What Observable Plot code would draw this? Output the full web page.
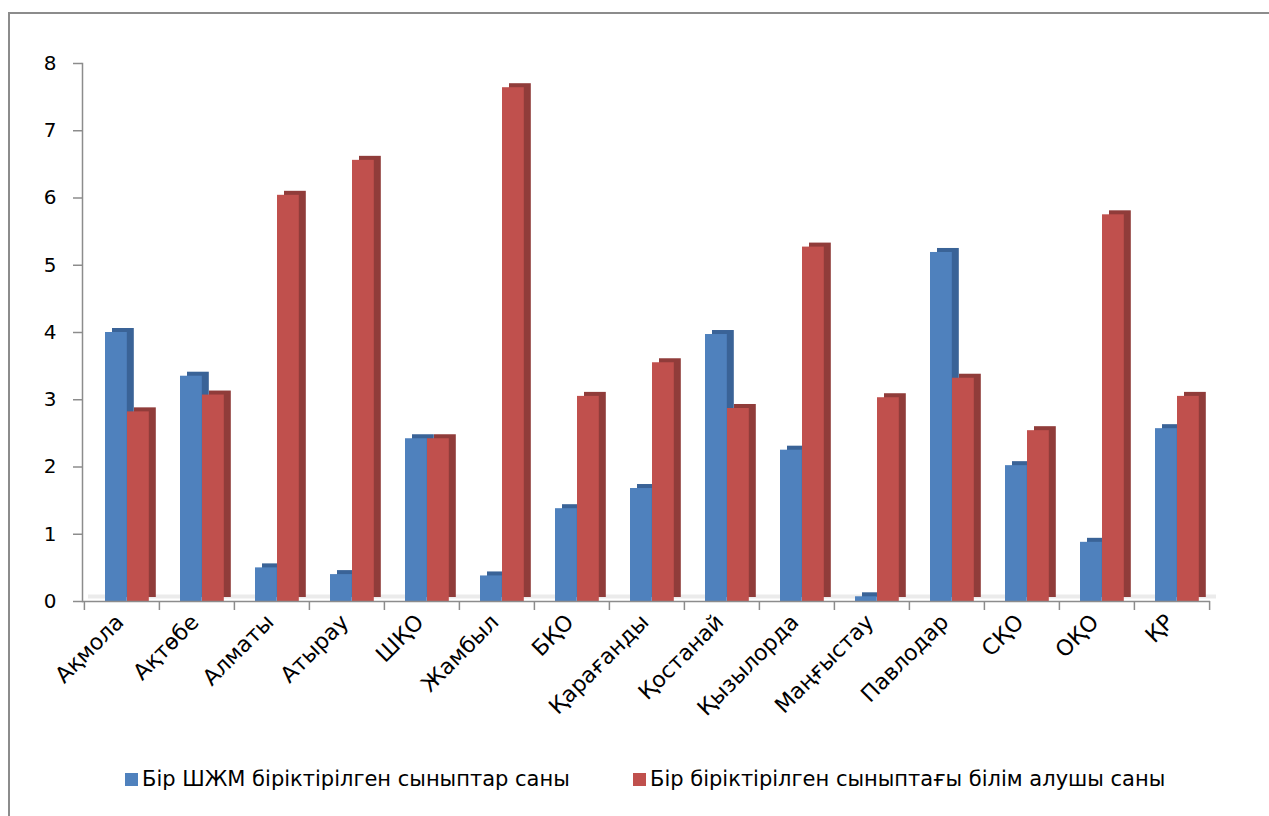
<!DOCTYPE html>
<html>
<head>
<meta charset="utf-8">
<script src="https://cdn.jsdelivr.net/npm/d3@7"></script>
<script src="https://cdn.jsdelivr.net/npm/@observablehq/plot@0.6"></script>
<style>
  html, body { margin: 0; padding: 0; background: #fff; }
  body { width: 1269px; height: 816px; position: relative; overflow: hidden; font-family: "DejaVu Sans", sans-serif; }
  #frame { position: absolute; left: 8px; top: 12px; width: 1400px; height: 900px; border: 2px solid #8c8c8c; box-sizing: border-box; }
  #chart { position: absolute; left: 0; top: 0; }
  #legend { position: absolute; top: 767px; left: 0; width: 1269px; font-size: 21px; color: #000; }
  .item { position: absolute; display: flex; align-items: center; white-space: nowrap; }
  .sw { width: 13px; height: 13px; margin-right: 4px; }
</style>
</head>
<body>
<div id="frame"></div>
<div id="chart"></div>
<div id="legend">
  <div class="item" style="left:125px"><span class="sw" style="background:#4F81BD"></span><span id="l1"></span></div>
  <div class="item" style="left:633px"><span class="sw" style="background:#C0504D"></span><span id="l2"></span></div>
</div>
<script>
const categories = ["Ақмола","Ақтөбе","Алматы","Атырау","ШҚО","Жамбыл","БҚО","Қарағанды","Қостанай","Қызылорда","Маңғыстау","Павлодар","СҚО","ОҚО","ҚР"];
const seriesNames = ["Бір ШЖМ біріктірілген сыныптар саны", "Бір біріктірілген сыныптағы білім алушы саны"];
const classesPerSchool = [4.0, 3.35, 0.5, 0.4, 2.42, 0.38, 1.38, 1.68, 3.97, 2.25, 0.07, 5.19, 2.02, 0.88, 2.57];
const studentsPerClass = [2.82, 3.07, 6.04, 6.56, 2.42, 7.64, 3.05, 3.55, 2.87, 5.27, 3.03, 3.32, 2.54, 5.75, 3.05];
const yTicks = [0,1,2,3,4,5,6,7,8];

document.getElementById("l1").textContent = seriesNames[0];
document.getElementById("l2").textContent = seriesNames[1];

const W = 1269, H = 700;
const mLeft = 82, mRight = 59, mTop = 63, mBottom = 99;
const bw = (W - mLeft - mRight) / categories.length;
const barW = 22, gapL = 21;
const depthX = 7, depthY = -4;

const blue = categories.map((c, i) => ({cat: c, value: classesPerSchool[i]}));
const red = categories.map((c, i) => ({cat: c, value: studentsPerClass[i]}));

const insB = {insetLeft: gapL, insetRight: bw - gapL - barW};
const insR = {insetLeft: gapL + barW, insetRight: bw - gapL - 2 * barW};
const tickLen = 9 / ((H - mTop - mBottom) / 8);

const plot = Plot.plot({
  width: W, height: H,
  marginLeft: mLeft, marginRight: mRight, marginTop: mTop, marginBottom: mBottom,
  style: {fontFamily: "DejaVu Sans, sans-serif", background: "transparent", overflow: "visible"},
  x: {domain: categories, padding: 0, axis: null},
  y: {domain: [0, 8], axis: null},
  marks: [
    // floor
    Plot.ruleY([0], {stroke: "#ebebeb", strokeWidth: 4, dx: 6, dy: -5}),
    // depth faces
    Plot.barY(blue, {x: "cat", y: "value", fill: "#3A6397", dx: depthX, dy: depthY, ...insB}),
    Plot.barY(red, {x: "cat", y: "value", fill: "#903C3A", dx: depthX, dy: depthY, ...insR}),
    // front faces
    Plot.barY(blue, {x: "cat", y: "value", fill: "#4F81BD", ...insB}),
    Plot.barY(red, {x: "cat", y: "value", fill: "#C0504D", ...insR}),
    // axes
    Plot.ruleY([0], {stroke: "#8c8c8c", strokeWidth: 1.5}),
    Plot.frame({anchor: "left", stroke: "#8c8c8c", strokeWidth: 1.5}),
    Plot.ruleX(categories, {x: d => d, dx: -bw / 2, y1: 0, y2: -tickLen, stroke: "#8c8c8c", strokeWidth: 1.5}),
    Plot.ruleX(categories.slice(-1), {x: d => d, dx: bw / 2, y1: 0, y2: -tickLen, stroke: "#8c8c8c", strokeWidth: 1.5}),
    Plot.axisY(yTicks, {tickSize: 9, tickPadding: 17, fontSize: 20, tickFormat: d3.format("d"), stroke: "#8c8c8c", strokeWidth: 1.5, color: "#000", label: null}),
    Plot.axisX({tickSize: 0, tickRotate: -45, tickPadding: 17, fontSize: 22, fill: "#000", label: null, dx: -2})
  ]
});
document.getElementById("chart").appendChild(plot);
</script>
</body>
</html>
